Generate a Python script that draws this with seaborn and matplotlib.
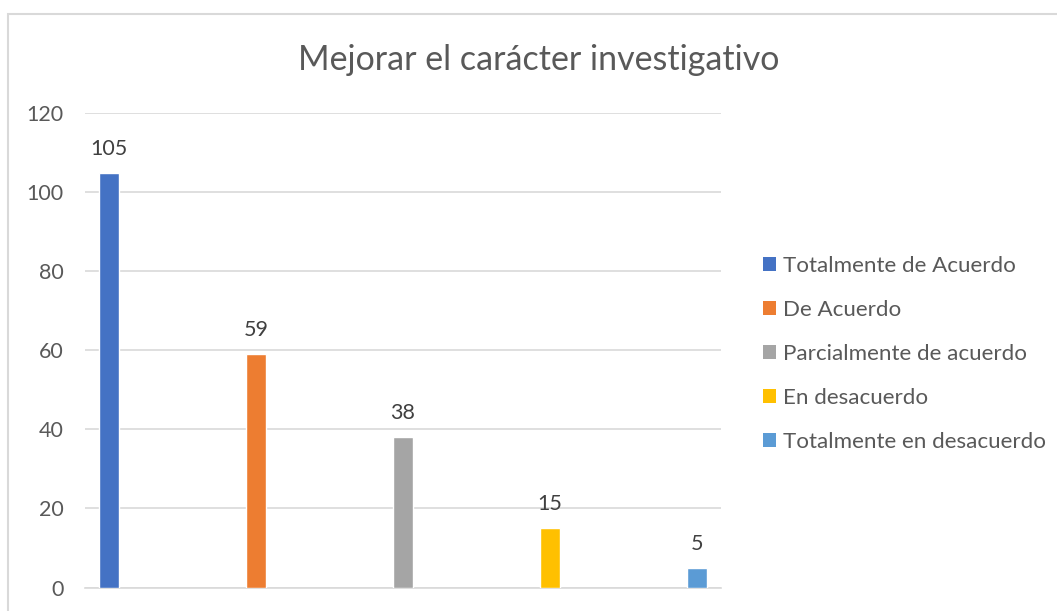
import matplotlib
matplotlib.use("Agg")
import matplotlib.pyplot as plt
import seaborn as sns
import pandas as pd
from matplotlib.patches import Rectangle, Patch

categories = ["Totalmente de Acuerdo", "De Acuerdo", "Parcialmente de acuerdo",
              "En desacuerdo", "Totalmente en desacuerdo"]
values = [105, 59, 38, 15, 5]
colors = ["#4472C4", "#ED7D31", "#A5A5A5", "#FFC000", "#5B9BD5"]
yticks = [0, 20, 40, 60, 80, 100, 120]
title = "Mejorar el carácter investigativo"

sns.set_theme(style="white")
plt.rcParams["font.family"] = ["Lato", "DejaVu Sans"]
TXT = "#595959"

W, H = 1057, 611
fig = plt.figure(figsize=(W / 100, H / 100), dpi=100)
fig.patch.set_facecolor("white")
fig.patches.append(Rectangle((8 / W, -0.1), 1.2, (H - 14) / H + 0.1,
                             transform=fig.transFigure, fill=False,
                             edgecolor="#D9D9D9", linewidth=1.5, zorder=0))

x0, x1 = 85, 721
y0, y1 = 587.5, 113.3
ax = fig.add_axes([x0 / W, (H - y0) / H, (x1 - x0) / W, (y0 - y1) / H])

df = pd.DataFrame({"cat": categories, "val": values})
sns.barplot(data=df, x="cat", y="val", hue="cat", palette=colors,
            order=categories, hue_order=categories, dodge=False,
            saturation=1, width=20 / 147, legend=False, ax=ax, zorder=3)

ax.set_xlim(-(109 - x0) / 147, 4 + (x1 - 697) / 147)
ax.set_ylim(0, 120)
ax.set_yticks(yticks)
ax.set_xticks([])
ax.set_xlabel("")
ax.set_ylabel("")
ax.yaxis.grid(True, color="#D9D9D9", linewidth=1.2, zorder=0)
ax.set_axisbelow(True)
for s in ["top", "right", "left"]:
    ax.spines[s].set_visible(False)
ax.spines["bottom"].set_color("#D9D9D9")
ax.spines["bottom"].set_linewidth(1.2)
ax.tick_params(axis="y", length=0, pad=15.5, labelsize=15.5, labelcolor=TXT)

for c in ax.containers:
    ax.bar_label(c, fmt="%d", padding=10, fontsize=15.5, color="#404040")

fig.text(539 / W, 1 - 60 / H, title, ha="center", va="center",
         fontsize=24.5, color=TXT)

handles = [Patch(facecolor=col, edgecolor="none", label=lab)
           for col, lab in zip(colors, categories)]
fig.legend(handles=handles, loc="center left",
           bbox_to_anchor=(763 / W, 1 - 354 / H), frameon=False,
           fontsize=16.1, labelcolor=TXT, handlelength=0.6, handleheight=0.6,
           handletextpad=0.3, labelspacing=1.07, borderaxespad=0, borderpad=0)

fig.savefig("out.png", dpi=100, facecolor="white")
